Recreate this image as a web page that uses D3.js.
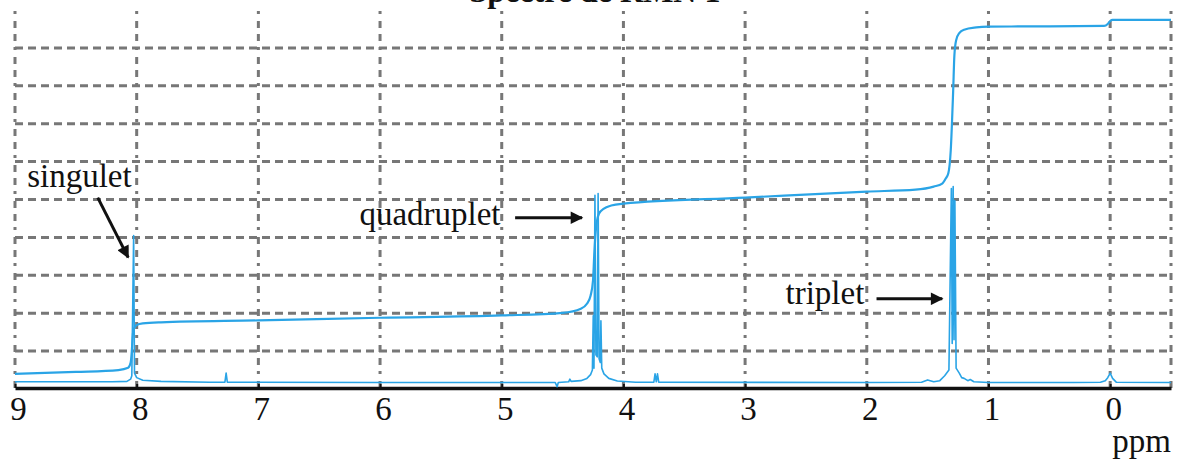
<!DOCTYPE html>
<html>
<head>
<meta charset="utf-8">
<script src="https://cdn.jsdelivr.net/npm/d3@7"></script>
<style>
  body { margin: 0; background: #fff; }
  svg { display: block; }
  .lbl { font-family: "Liberation Serif", "Times New Roman", serif; fill: #111; }
</style>
</head>
<body>
<div id="chart"></div>
<script>
var svgWidth = 1178;
var svgHeight = 461;

// x axis (ppm) ticks
var tickPpm = [9, 8, 7, 6, 5, 4, 3, 2, 1, 0];
var gridRows = [1, 2, 3, 4, 5, 6, 7, 8, 9];

// spectrum: [ppm, intensity in grid units]
var spectrum = [
  [9.0, 0.19], [8.2, 0.19], [8.08, 0.20], [8.05, 0.26], [8.04, 0.35],
  [8.025, 4.05], [8.018, 0.42], [8.00, 0.30], [7.95, 0.23], [7.8, 0.20],
  [7.4, 0.18], [7.275, 0.18], [7.265, 0.42], [7.255, 0.18], [6.0, 0.17],
  [4.56, 0.17], [4.545, 0.06], [4.535, 0.17], [4.45, 0.19], [4.44, 0.26],
  [4.43, 0.20], [4.35, 0.22], [4.30, 0.28], [4.27, 0.38], [4.255, 0.5],
  [4.248, 1.93], [4.242, 0.55], [4.234, 5.11], [4.226, 0.9], [4.215, 0.85],
  [4.208, 5.16], [4.200, 0.8], [4.19, 0.7], [4.185, 1.8], [4.178, 0.55],
  [4.16, 0.4], [4.12, 0.28], [4.05, 0.21], [3.9, 0.18], [3.75, 0.18],
  [3.74, 0.40], [3.73, 0.19], [3.72, 0.40], [3.71, 0.18], [2.0, 0.17],
  [1.55, 0.18], [1.50, 0.24], [1.45, 0.19], [1.40, 0.22], [1.36, 0.35],
  [1.325, 0.5], [1.305, 5.29], [1.298, 1.2], [1.29, 5.34], [1.283, 1.3],
  [1.276, 4.97], [1.266, 0.55], [1.24, 0.42], [1.22, 0.30], [1.2, 0.28],
  [1.17, 0.22], [1.15, 0.25], [1.12, 0.19], [1.0, 0.17], [0.3, 0.17],
  [0.08, 0.18], [0.04, 0.22], [0.02, 0.30], [0.0, 0.42], [-0.02, 0.28],
  [-0.05, 0.18], [-0.5, 0.17]
];

// integral curve: [ppm, value in grid units]
var integral = [
  [9.0, 0.40], [8.5, 0.45], [8.15, 0.50], [8.07, 0.56], [8.05, 0.69],
  [8.04, 1.00], [8.035, 1.27], [8.03, 1.48], [8.02, 1.61], [8.0, 1.69],
  [7.95, 1.73], [7.8, 1.76], [7.0, 1.81], [6.0, 1.88], [5.0, 1.94],
  [4.5, 2.01], [4.35, 2.12], [4.30, 2.25], [4.27, 2.46], [4.25, 2.86],
  [4.24, 3.52], [4.23, 4.05], [4.22, 4.39], [4.20, 4.63], [4.16, 4.76],
  [4.10, 4.84], [4.0, 4.89], [3.0, 5.05], [2.0, 5.21], [1.6, 5.26],
  [1.45, 5.34], [1.38, 5.42], [1.35, 5.56], [1.33, 5.69], [1.31, 6.30],
  [1.29, 7.88], [1.28, 8.81], [1.265, 9.21], [1.24, 9.39], [1.2, 9.48],
  [1.1, 9.54], [1.0, 9.56], [0.5, 9.57], [0.05, 9.58], [0.02, 9.63],
  [0.0, 9.71], [-0.02, 9.74], [-0.5, 9.74]
];

// annotations: label text, text anchor point, arrow from / to (ppm, value)
var notes = [
  { text: "singulet", anchor: "start", at: [8.90, 5.32], from: [8.32, 5.05], to: [8.07, 3.47] },
  { text: "quadruplet", anchor: "end", at: [5.01, 4.32], from: [4.89, 4.52], to: [4.34, 4.52] },
  { text: "triplet", anchor: "end", at: [2.02, 2.25], from: [1.92, 2.38], to: [1.38, 2.38] }
];

var blue = "#2aa4e6";
var gridGrey = "#777777";

var svg = d3.select("#chart")
  .append("svg")
  .attr("width", svgWidth)
  .attr("height", svgHeight);

var x = d3.scaleLinear().domain([9, -0.5]).range([15, 1171]);
var y = d3.scaleLinear().domain([0, 10]).range([389, 10]);

svg.append("defs").append("marker")
  .attr("id", "head")
  .attr("viewBox", "0 0 10 10")
  .attr("refX", 9)
  .attr("refY", 5)
  .attr("markerWidth", 5)
  .attr("markerHeight", 4.2)
  .attr("markerUnits", "strokeWidth")
  .attr("orient", "auto")
  .append("path")
  .attr("d", "M0,0 L10,5 L0,10 Z")
  .attr("fill", "#111");

// grid
var grid = svg.append("g");
grid.selectAll(".hg")
  .data(gridRows)
  .enter()
  .append("line")
  .attr("x1", x(9))
  .attr("x2", x(-0.5))
  .attr("y1", d => y(d))
  .attr("y2", d => y(d))
  .attr("stroke", gridGrey)
  .attr("stroke-width", 3)
  .attr("stroke-dasharray", "8,5");

grid.selectAll(".vg")
  .data(tickPpm.concat([-0.5]))
  .enter()
  .append("line")
  .attr("x1", d => x(d))
  .attr("x2", d => x(d))
  .attr("y1", y(10) + 1)
  .attr("y2", y(0))
  .attr("stroke", gridGrey)
  .attr("stroke-width", 3)
  .attr("stroke-dasharray", "3,7,7,6,7,6");

// axis
var xAxis = svg.append("g")
  .attr("transform", `translate(0, ${y(0) - 1})`)
  .call(d3.axisBottom(x).tickValues(tickPpm).tickFormat(d3.format("d"))
    .tickSizeInner(-4).tickSizeOuter(0).tickPadding(9));
xAxis.select(".domain").attr("stroke", "#111").attr("stroke-width", 3.5);
xAxis.selectAll(".tick line").attr("stroke", "#111").attr("stroke-width", 2);
xAxis.selectAll(".tick text")
  .attr("class", "lbl")
  .attr("dx", 3)
  .style("font-size", "33px")
  .attr("fill", "#111");

svg.append("text")
  .attr("class", "lbl")
  .attr("x", x(-0.5))
  .attr("y", 452)
  .attr("text-anchor", "end")
  .style("font-size", "33px")
  .text("ppm");

// title, clipped at the top as in the picture
svg.append("text")
  .attr("class", "lbl")
  .attr("x", 595)
  .attr("y", 2)
  .attr("text-anchor", "middle")
  .style("font-size", "32px")
  .style("font-weight", "bold")
  .text("Spectre de RMN 1");

var line = d3.line()
  .x(d => x(d[0]))
  .y(d => y(d[1]));

svg.append("path")
  .datum(spectrum)
  .attr("d", line)
  .attr("fill", "none")
  .attr("stroke", blue)
  .attr("stroke-width", 1.6)
  .attr("stroke-linejoin", "round");

svg.append("path")
  .datum(integral)
  .attr("d", d3.line().x(d => x(d[0])).y(d => y(d[1])).curve(d3.curveMonotoneX))
  .attr("fill", "none")
  .attr("stroke", blue)
  .attr("stroke-width", 2.2);

// annotations
var ann = svg.append("g");
ann.selectAll("text")
  .data(notes)
  .enter()
  .append("text")
  .attr("class", "lbl")
  .attr("x", d => x(d.at[0]))
  .attr("y", d => y(d.at[1]))
  .attr("text-anchor", d => d.anchor)
  .style("font-size", "33px")
  .text(d => d.text);

ann.selectAll("line")
  .data(notes)
  .enter()
  .append("line")
  .attr("x1", d => x(d.from[0]))
  .attr("y1", d => y(d.from[1]))
  .attr("x2", d => x(d.to[0]))
  .attr("y2", d => y(d.to[1]))
  .attr("stroke", "#111")
  .attr("stroke-width", 3)
  .attr("marker-end", "url(#head)");
</script>
</body>
</html>
